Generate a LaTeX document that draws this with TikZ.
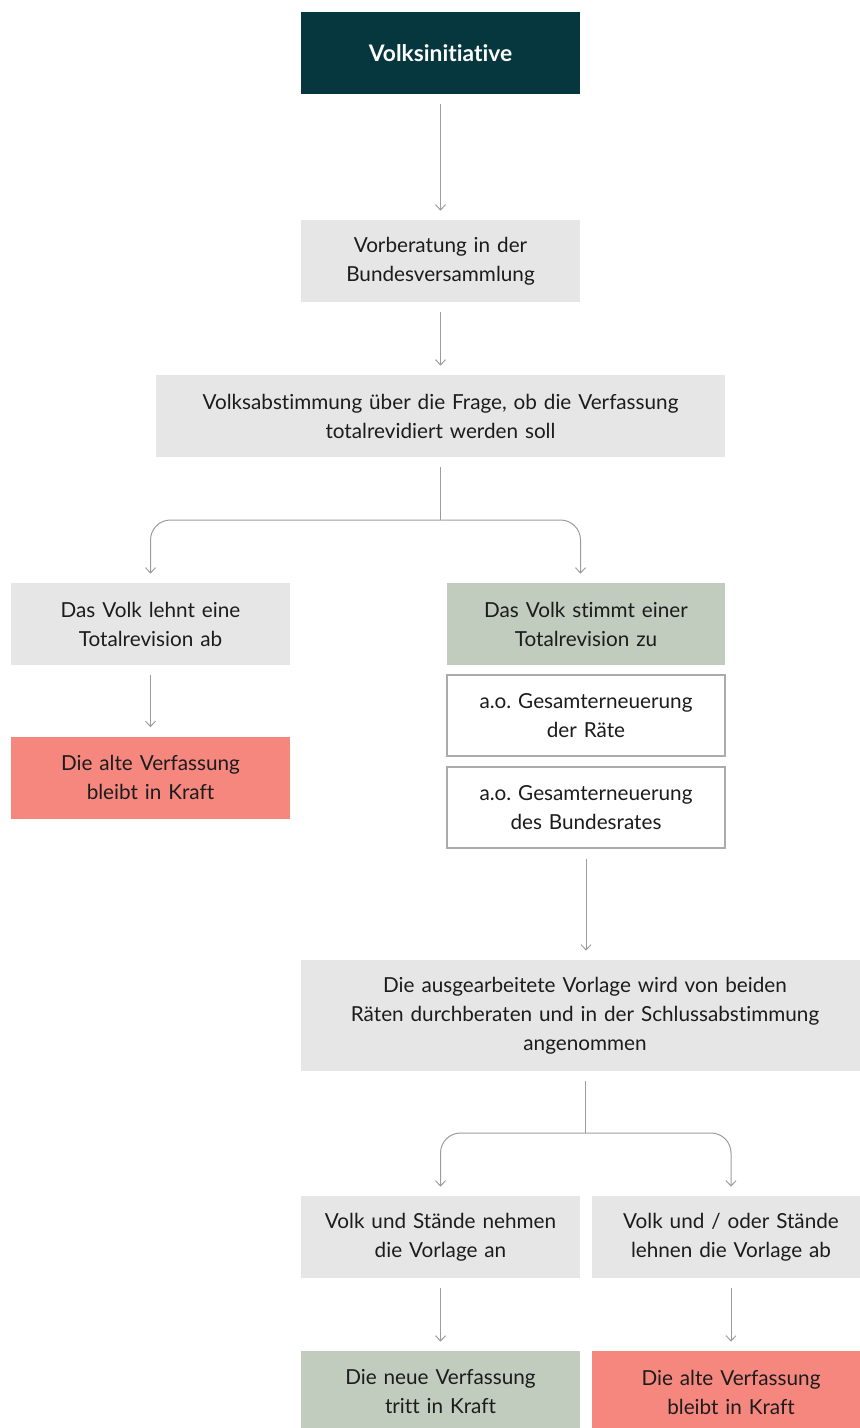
\documentclass[tikz,border=0pt]{standalone}
\usepackage{fontspec}
\setmainfont{Lato}[Ligatures=NoCommon]
\usetikzlibrary{arrows.meta}
\frenchspacing

\definecolor{petrol}{HTML}{06373F}
\definecolor{hellgrau}{HTML}{E6E6E6}
\definecolor{salbei}{HTML}{C1CBBE}
\definecolor{lachs}{HTML}{F5877F}
\definecolor{liniengrau}{HTML}{9C9C9C}
\definecolor{rahmengrau}{HTML}{ABABAB}
\definecolor{schrift}{HTML}{1C1C1C}

\begin{document}
\begin{tikzpicture}[
    x=0.5pt,
    y=-0.5pt,
    >={Straight Barb[length=2.6pt,width=5pt]},
    every node/.style={font=\fontsize{10.35}{14.5}\selectfont, text=schrift},
    box/.style={
        inner sep=0pt,
        align=center,
        minimum height=41pt
    },
    schmal/.style={box, text width=139.5pt, minimum width=139.5pt},
    grau/.style={fill=hellgrau},
    gruen/.style={fill=salbei},
    rot/.style={fill=lachs},
    weiss/.style={fill=white, draw=rahmengrau, line width=0.6pt},
    pfeil/.style={
        ->,
        draw=liniengrau,
        line width=0.5pt,
        shorten <=5pt,
        shorten >=4.5pt
    },
    ast/.style={
        ->,
        draw=liniengrau,
        line width=0.5pt,
        rounded corners=10pt,
        shorten >=4.5pt
    }
]

% ============================================================
% Rahmen
% ============================================================

\useasboundingbox (0,0) rectangle (859,1428);

% ============================================================
% Volksinitiative und Vorberatung
% ============================================================

\node[schmal, fill=petrol, text=white,
      font=\fontsize{11.4}{14.5}\selectfont\bfseries]
    (init) at (440.5,53) {Volksinitiative};

\node[schmal, grau] (vorb) at (440.5,261)
    {Vorberatung in der\\
     Bundesversammlung};

\node[box, grau, text width=284.5pt, minimum width=284.5pt]
    (abst) at (440.5,416)
    {Volksabstimmung über die Frage, ob die Verfassung\\
     totalrevidiert werden soll};

% ============================================================
% Erste Verzweigung
% ============================================================

\node[schmal, grau] (nein) at (150.5,624)
    {Das Volk lehnt eine\\
     Totalrevision ab};

\node[box, gruen, text width=139pt, minimum width=139pt]
    (ja) at (586,624)
    {Das Volk stimmt einer\\
     Totalrevision zu};

\node[schmal, rot] (alt1) at (150.5,777.5)
    {Die alte Verfassung\\
     bleibt in Kraft};

% Ausserordentliche Gesamterneuerungen
\node[box, weiss, text width=139pt, minimum width=139pt,
      minimum height=40.5pt]
    (raete) at (586,715.5)
    {a.o. Gesamterneuerung\\
     der Räte};

\node[box, weiss, text width=139pt, minimum width=139pt,
      minimum height=40.5pt]
    (brat) at (586,807.5)
    {a.o. Gesamterneuerung\\
     des Bundesrates};

% ============================================================
% Ausarbeitung der Vorlage
% ============================================================

\node[box, grau, text width=284pt, minimum width=284pt,
      minimum height=55.5pt]
    (vorlage) at (585,1015.5)
    {Die ausgearbeitete Vorlage wird von beiden\\
     Räten durchberaten und in der Schlussabstimmung\\
     angenommen};

% ============================================================
% Zweite Verzweigung
% ============================================================

\node[schmal, grau] (annahme) at (440.5,1237)
    {Volk und Stände nehmen\\
     die Vorlage an};

\node[schmal, grau] (ablehn) at (731,1237)
    {Volk und / oder Stände\\
     lehnen die Vorlage ab};

\node[schmal, gruen] (neu) at (440.5,1392)
    {Die neue Verfassung\\
     tritt in Kraft};

\node[schmal, rot] (alt2) at (731,1392)
    {Die alte Verfassung\\
     bleibt in Kraft};

% ============================================================
% Pfeile
% ============================================================

\draw[pfeil] (init) -- (vorb);
\draw[pfeil] (vorb) -- (abst);

% Verzweigung nach der Abstimmung
\coordinate (teil1) at (440.5,520);
\draw[pfeil, shorten >=0pt, -] (abst.south) -- (teil1);
\draw[ast] (teil1) -| (nein.north);
\draw[ast] (teil1) -| ([xshift=-2.75pt]ja.north);

\draw[pfeil] (nein) -- (alt1);
\draw[pfeil] (brat.south) -- (brat.south |- vorlage.north);

% Verzweigung nach der Schlussabstimmung
\coordinate (teil2) at (585,1133);
\draw[pfeil, shorten >=0pt, -] (vorlage.south) -- (teil2);
\draw[ast] (teil2) -| (annahme.north);
\draw[ast] (teil2) -| (ablehn.north);

\draw[pfeil] (annahme) -- (neu);
\draw[pfeil] (ablehn) -- (alt2);

\end{tikzpicture}
\end{document}
